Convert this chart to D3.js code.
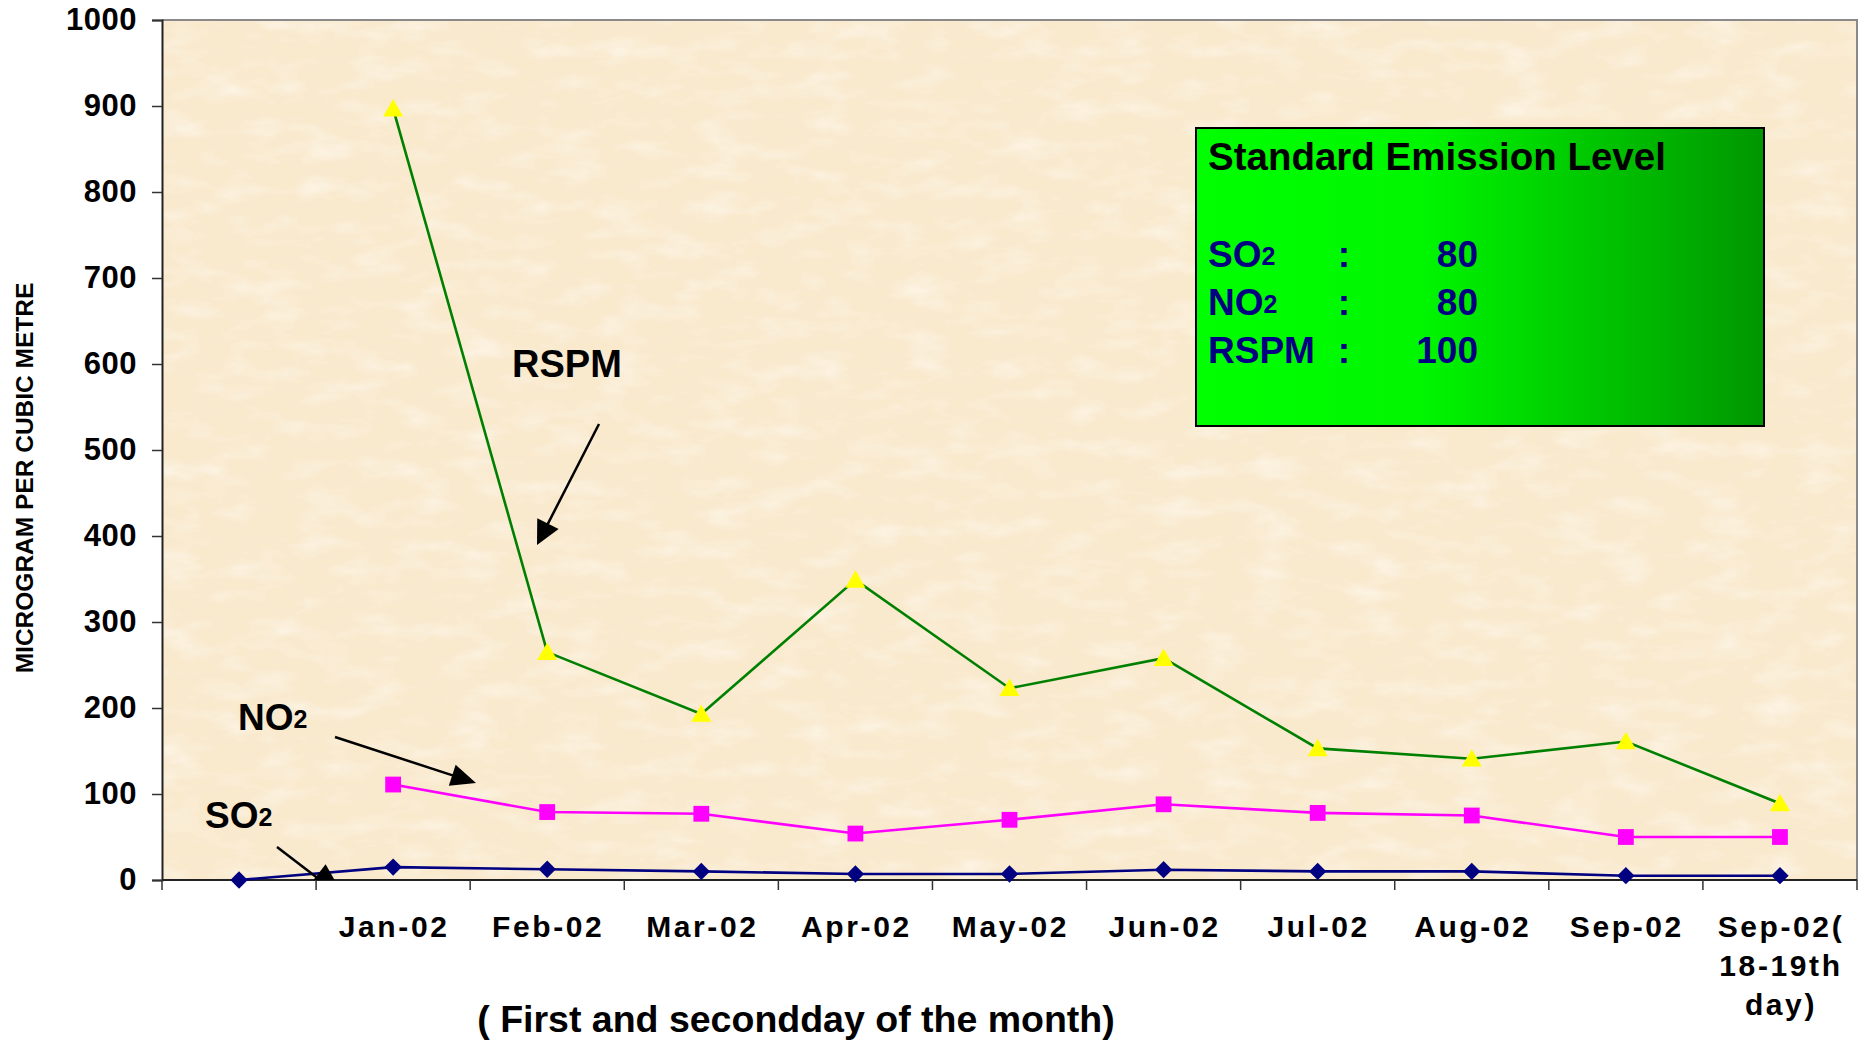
<!DOCTYPE html>
<html>
<head>
<meta charset="utf-8">
<script src="https://cdn.jsdelivr.net/npm/d3@7"></script>
<style>
  body { margin: 0; background: #fff; }
  svg text { font-family: "Liberation Sans", Arial, sans-serif; font-weight: bold; }
</style>
</head>
<body>
<div id="chart"></div>
<script>
// data
var categories = ["c0", "Jan-02", "Feb-02", "Mar-02", "Apr-02", "May-02", "Jun-02", "Jul-02", "Aug-02", "Sep-02", "Sep-02b"];
var tickLabels = [[""], ["Jan-02"], ["Feb-02"], ["Mar-02"], ["Apr-02"], ["May-02"], ["Jun-02"], ["Jul-02"], ["Aug-02"], ["Sep-02"], ["Sep-02(", "18-19th", "day)"]];
var so2 = [0, 15, 12.5, 10, 7, 7, 12, 10, 10, 5, 5];
var no2 = [null, 111, 79, 77, 54, 70, 88, 78, 75, 50, 50];
var rspm = [null, 897, 265, 193, 349, 223, 258, 153, 141, 161, 89];
var yTicks = [0, 100, 200, 300, 400, 500, 600, 700, 800, 900, 1000];
var standards = [["SO", "2", "80"], ["NO", "2", "80"], ["RSPM", "", "100"]];

var svgWidth = 1866;
var svgHeight = 1042;
var plot = { left: 162, top: 20, right: 1857, bottom: 880 };

var svg = d3.select("#chart")
    .append("svg")
    .attr("width", svgWidth)
    .attr("height", svgHeight);

var defs = svg.append("defs");

// paper texture for the plot area
var tex = defs.append("filter").attr("id", "tex")
    .attr("x", 0).attr("y", 0).attr("width", 1).attr("height", 1);
tex.append("feTurbulence")
    .attr("type", "fractalNoise")
    .attr("baseFrequency", "0.02 0.05")
    .attr("numOctaves", 4)
    .attr("seed", 7);
tex.append("feColorMatrix")
    .attr("values", "0 0 0 0 1  0 0 0 0 0.98  0 0 0 0 0.93  0 0 0 1.1 -0.5");

var grad = defs.append("linearGradient").attr("id", "boxGrad")
    .attr("x1", "0%").attr("x2", "100%").attr("y1", "0%").attr("y2", "0%");
grad.append("stop").attr("offset", "0%").attr("stop-color", "#00ff00");
grad.append("stop").attr("offset", "40%").attr("stop-color", "#00f600");
grad.append("stop").attr("offset", "100%").attr("stop-color", "#009600");

defs.append("clipPath").attr("id", "plotClip")
    .append("rect")
    .attr("x", plot.left).attr("y", plot.top)
    .attr("width", plot.right - plot.left).attr("height", plot.bottom - plot.top);

// scales
var x = d3.scaleBand()
    .domain(categories)
    .range([plot.left, plot.right]);

var y = d3.scaleLinear()
    .domain([0, 1000])
    .range([plot.bottom, plot.top]);

var cx = function (i) { return x(categories[i]) + x.bandwidth() / 2; };

// background
svg.append("rect")
    .attr("x", plot.left).attr("y", plot.top)
    .attr("width", plot.right - plot.left).attr("height", plot.bottom - plot.top)
    .attr("fill", "#f9e9cd");
svg.append("rect")
    .attr("x", plot.left).attr("y", plot.top)
    .attr("width", plot.right - plot.left).attr("height", plot.bottom - plot.top)
    .attr("fill", "#fff")
    .attr("filter", "url(#tex)");

// frame (top and right in grey)
svg.append("path")
    .attr("d", `M${plot.left},${plot.top}H${plot.right}V${plot.bottom}`)
    .attr("fill", "none")
    .attr("stroke", "#8a8a8a")
    .attr("stroke-width", 2);

// y axis
var leftAxis = d3.axisLeft(y).tickValues(yTicks).tickFormat(d3.format("d")).tickSize(10).tickPadding(15);
var yAxis = svg.append("g")
    .attr("transform", `translate(${plot.left},0)`)
    .call(leftAxis);
yAxis.select(".domain").attr("stroke", "#222").attr("stroke-width", 2);
yAxis.selectAll(".tick line").attr("stroke", "#333").attr("stroke-width", 1.5);
yAxis.selectAll(".tick text")
    .attr("font-size", 31)
    .attr("letter-spacing", 0.5)
    .attr("fill", "#000")
    .attr("font-family", "Liberation Sans, Arial, sans-serif")
    .attr("font-weight", "bold");

// x axis: line, boundary ticks, multi-line labels
var xAxis = svg.append("g");
xAxis.append("line")
    .attr("x1", plot.left).attr("x2", plot.right)
    .attr("y1", plot.bottom).attr("y2", plot.bottom)
    .attr("stroke", "#222").attr("stroke-width", 2);
var bounds = categories.map(function (c) { return x(c); }).concat([plot.right]);
xAxis.selectAll(".xtick")
    .data(bounds)
    .enter()
    .append("line")
    .attr("x1", d => d).attr("x2", d => d)
    .attr("y1", plot.bottom).attr("y2", plot.bottom + 10)
    .attr("stroke", "#333").attr("stroke-width", 1.5);

var labelGroups = xAxis.selectAll(".xlabel")
    .data(tickLabels)
    .enter()
    .append("text")
    .attr("text-anchor", "middle")
    .attr("font-size", 30)
    .attr("letter-spacing", 2.6)
    .attr("fill", "#000");
labelGroups.each(function (lines, i) {
    var t = d3.select(this);
    lines.forEach(function (ln, j) {
        t.append("tspan")
            .attr("x", cx(i) + 1)
            .attr("y", 937 + j * 39)
            .text(ln);
    });
});

// axis titles
svg.append("text")
    .attr("transform", `translate(33, 478) rotate(-90)`)
    .attr("text-anchor", "middle")
    .attr("font-size", 24.5)
    .attr("fill", "#000")
    .text("MICROGRAM PER CUBIC METRE");

svg.append("text")
    .attr("x", 796)
    .attr("y", 1032)
    .attr("text-anchor", "middle")
    .attr("font-size", 37.5)
    .attr("fill", "#000")
    .text("( First and secondday of the month)");

// series
var series = [
    { values: so2, color: "#000080", marker: "diamond" },
    { values: no2, color: "#ff00ff", marker: "square" },
    { values: rspm, color: "#008000", fill: "#ffff00", marker: "triangle" }
];

var line = d3.line()
    .defined(d => d != null)
    .x((d, i) => cx(i))
    .y(d => y(d));

var chartGroup = svg.append("g");

series.forEach(function (s) {
    chartGroup.append("path")
        .attr("d", line(s.values))
        .attr("fill", "none")
        .attr("stroke", s.color)
        .attr("stroke-width", 2.6);
});

series.forEach(function (s) {
    var sym;
    if (s.marker === "triangle") sym = d3.symbol().type(d3.symbolTriangle).size(175);
    else if (s.marker === "square") sym = d3.symbol().type(d3.symbolSquare).size(250);
    else sym = d3.symbol().type(d3.symbolSquare).size(150);
    var pts = s.values.map(function (v, i) { return { v: v, i: i }; }).filter(d => d.v != null);
    chartGroup.selectAll(null)
        .data(pts)
        .enter()
        .append("path")
        .attr("d", sym)
        .attr("transform", function (d) {
            var t = `translate(${cx(d.i)},${y(d.v)})`;
            if (s.marker === "triangle") t += " translate(0,2)";
            if (s.marker === "diamond") t += " rotate(45)";
            return t;
        })
        .attr("fill", s.fill || s.color);
});

// annotations with arrows
function arrow(x1, y1, x2, y2, len, half, width) {
    var dx = x2 - x1, dy = y2 - y1;
    var L = Math.sqrt(dx * dx + dy * dy);
    var ux = dx / L, uy = dy / L;
    var bx = x2 - ux * len, by = y2 - uy * len;
    var g = svg.append("g").attr("clip-path", "url(#plotClip)");
    g.append("line")
        .attr("x1", x1).attr("y1", y1).attr("x2", bx + ux * 2).attr("y2", by + uy * 2)
        .attr("stroke", "#000").attr("stroke-width", width);
    g.append("path")
        .attr("d", `M${x2},${y2}L${bx - uy * half},${by + ux * half}L${bx + uy * half},${by - ux * half}Z`)
        .attr("fill", "#000");
}

arrow(599, 424, 537, 545, 24, 12, 2.5);
arrow(335, 737, 476, 783, 25, 11, 2.5);
arrow(277, 847, 346, 900, 38, 16, 2.5);

svg.append("text")
    .attr("x", 512).attr("y", 377)
    .attr("font-size", 38)
    .attr("fill", "#000")
    .text("RSPM");

var noLabel = svg.append("text")
    .attr("x", 238).attr("y", 730)
    .attr("font-size", 37)
    .attr("fill", "#000");
noLabel.append("tspan").text("NO");
noLabel.append("tspan").attr("font-size", 25).attr("dy", -2).text("2");

var soLabel = svg.append("text")
    .attr("x", 205).attr("y", 828)
    .attr("font-size", 37)
    .attr("fill", "#000");
soLabel.append("tspan").text("SO");
soLabel.append("tspan").attr("font-size", 25).attr("dy", -2).text("2");

// standard emission box
var box = svg.append("g");
box.append("rect")
    .attr("x", 1196).attr("y", 128)
    .attr("width", 568).attr("height", 298)
    .attr("fill", "url(#boxGrad)")
    .attr("stroke", "#000")
    .attr("stroke-width", 2);
box.append("text")
    .attr("x", 1208).attr("y", 170)
    .attr("font-size", 38.5)
    .attr("fill", "#000")
    .text("Standard Emission Level");

standards.forEach(function (row, i) {
    var by = 267 + i * 48;
    var t = box.append("text")
        .attr("x", 1208).attr("y", by)
        .attr("font-size", 37)
        .attr("fill", "#000080");
    t.append("tspan").text(row[0]);
    if (row[1]) t.append("tspan").attr("font-size", 25).attr("dy", -2).text(row[1]);
    box.append("text")
        .attr("x", 1344).attr("y", by)
        .attr("text-anchor", "middle")
        .attr("font-size", 37)
        .attr("fill", "#000080")
        .text(":");
    box.append("text")
        .attr("x", 1478).attr("y", by)
        .attr("text-anchor", "end")
        .attr("font-size", 37)
        .attr("fill", "#000080")
        .text(row[2]);
});
</script>
</body>
</html>
